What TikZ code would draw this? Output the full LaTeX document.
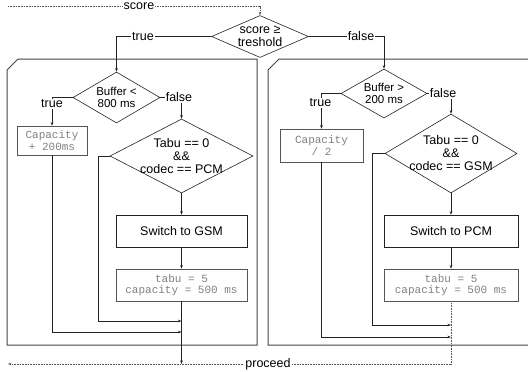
\documentclass[tikz,border=0pt]{standalone}
\usepackage{fontspec}
\setmainfont{Liberation Sans}
\setmonofont{Liberation Mono}
\usetikzlibrary{shapes.geometric,arrows.meta}
\definecolor{ln}{HTML}{222222}
\definecolor{pan}{HTML}{444444}
\definecolor{cbd}{HTML}{555555}
\definecolor{codec}{HTML}{808080}
\definecolor{dotc}{HTML}{555555}
\begin{document}
\begin{tikzpicture}[x=1pt,y=-1pt,
 dia/.style={diamond,draw=ln,line width=0.6pt,inner sep=0pt},
 box/.style={rectangle,draw=ln,line width=0.6pt,inner sep=0pt,font=\fontsize{12.5}{13}\selectfont},
 cbox/.style={rectangle,draw=cbd,line width=0.6pt,inner sep=0pt,font=\fontsize{11}{11.5}\ttfamily,text=codec,align=center},
 txt/.style={font=\fontsize{12.5}{13}\selectfont,align=center,inner sep=0pt},
 btxt/.style={font=\fontsize{11.5}{12.5}\selectfont,align=center,inner sep=0pt},
 lbl/.style={font=\fontsize{12.5}{13}\selectfont,fill=white,inner sep=1pt},
 conn/.style={draw=ln,line width=0.6pt,-{Stealth[length=3.5pt,width=2.6pt]}},
 dots/.style={draw=dotc,line width=0.5pt,dash pattern=on 1pt off 0.6pt},
 panel/.style={draw=pan,line width=1pt}]
\useasboundingbox (0,0) rectangle (528,372);
\clip (0,0) rectangle (528,372);
% panels
\draw[panel] (7,345) -- (7,70) -- (18,59) -- (257,59) -- (257,345) -- cycle;
\draw[panel] (268,345) -- (268,70) -- (279,59) -- (540,59) -- (540,345) -- cycle;
% top decision
\node[dia,minimum width=97pt,minimum height=42pt] (ds) at (260,36.5) {};
\node[txt] (dsT) at (ds) {score ≥\\treshold};
% left column
\node[dia,minimum width=87pt,minimum height=51pt] (bl) at (116.5,97.5) {};
\node[btxt] (blT) at (bl) {Buffer <\\800 ms};
\node[cbox,minimum width=70pt,minimum height=29pt] (c1) at (52,140.5) {Capacity\\+ 200ms};
\node[dia,minimum width=143pt,minimum height=74pt] (tl) at (181.5,156) {};
\node[txt] (tlT) at (tl) {Tabu == 0\\\&\&\\codec == PCM};
\node[box,minimum width=131pt,minimum height=32pt] (sl) at (181.5,231) {Switch to GSM};
\node[cbox,minimum width=131pt,minimum height=32pt] (al) at (181.5,285) {tabu = 5\\capacity = 500 ms};
% right column
\node[dia,minimum width=86pt,minimum height=49pt] (br) at (384,93.5) {};
\node[btxt] (brT) at (br) {Buffer >\\200 ms};
\node[cbox,minimum width=83pt,minimum height=33pt] (c2) at (321.5,145.5) {Capacity\\/ 2};
\node[dia,minimum width=132pt,minimum height=79pt] (tr) at (451,153.5) {};
\node[txt] (trT) at (tr) {Tabu == 0\\\&\&\\codec == GSM};
\node[box,minimum width=134pt,minimum height=32pt] (sr) at (451,231) {Switch to PCM};
\node[cbox,minimum width=134pt,minimum height=32pt] (ar) at (451,285) {tabu = 5\\capacity = 500 ms};
% coordinates
\coordinate (s0) at (8,6);
\coordinate (s1) at (260,6);
\coordinate (mL1) at (181.5,321);
\coordinate (mL2) at (181.5,332);
\coordinate (pL) at (181.5,364);
\coordinate (mR1) at (451,325);
\coordinate (mR2) at (451,337);
\coordinate (pR) at (451,364);
\coordinate (pE) at (8,364);
% connectors
\draw[dots,-{Stealth[length=3.5pt,width=2.6pt]}] (s0) -- (s1) -- (ds.north);
\draw[conn] (ds.west) -| (bl.north);
\draw[conn] (ds.east) -| (br.north);
\draw[conn] (bl.west) -| (c1.north);
\draw[conn] (bl.east) -| (tl.north);
\draw[conn] (tl.south) -- (sl.north);
\draw[conn] (sl.south) -- (al.north);
\draw[conn] (tl.west) -- ++(-11,0) |- (mL1);
\draw[conn] (c1.south) |- (mL2);
\draw[conn] (al.south) -- (pL);
\draw[conn] (br.west) -| (c2.north);
\draw[conn] (br.east) -| (tr.north);
\draw[conn] (tr.south) -- (sr.north);
\draw[conn] (sr.south) -- (ar.north);
\draw[conn] (tr.west) -- ++(-12,0) |- (mR1);
\draw[conn] (c2.south) |- (mR2);
\draw[dots,-{Stealth[length=3.5pt,width=2.6pt]}] (ar.south) -- (pR) -- (pE);
% labels
\node[lbl] (lscore) at (139,6) {score};
\node[lbl] (ltrue0) at (143,36.5) {true};
\node[lbl] (lfalse0) at (361,36.5) {false};
\node[lbl] (ltrueL) at (52,104) {true};
\node[lbl] (lfalseL) at (179,97.5) {false};
\node[lbl] (ltrueR) at (320.5,103) {true};
\node[lbl] (lfalseR) at (443,93.5) {false};
\node[lbl] (lproc) at (268,364) {proceed};
\end{tikzpicture}
\end{document}
